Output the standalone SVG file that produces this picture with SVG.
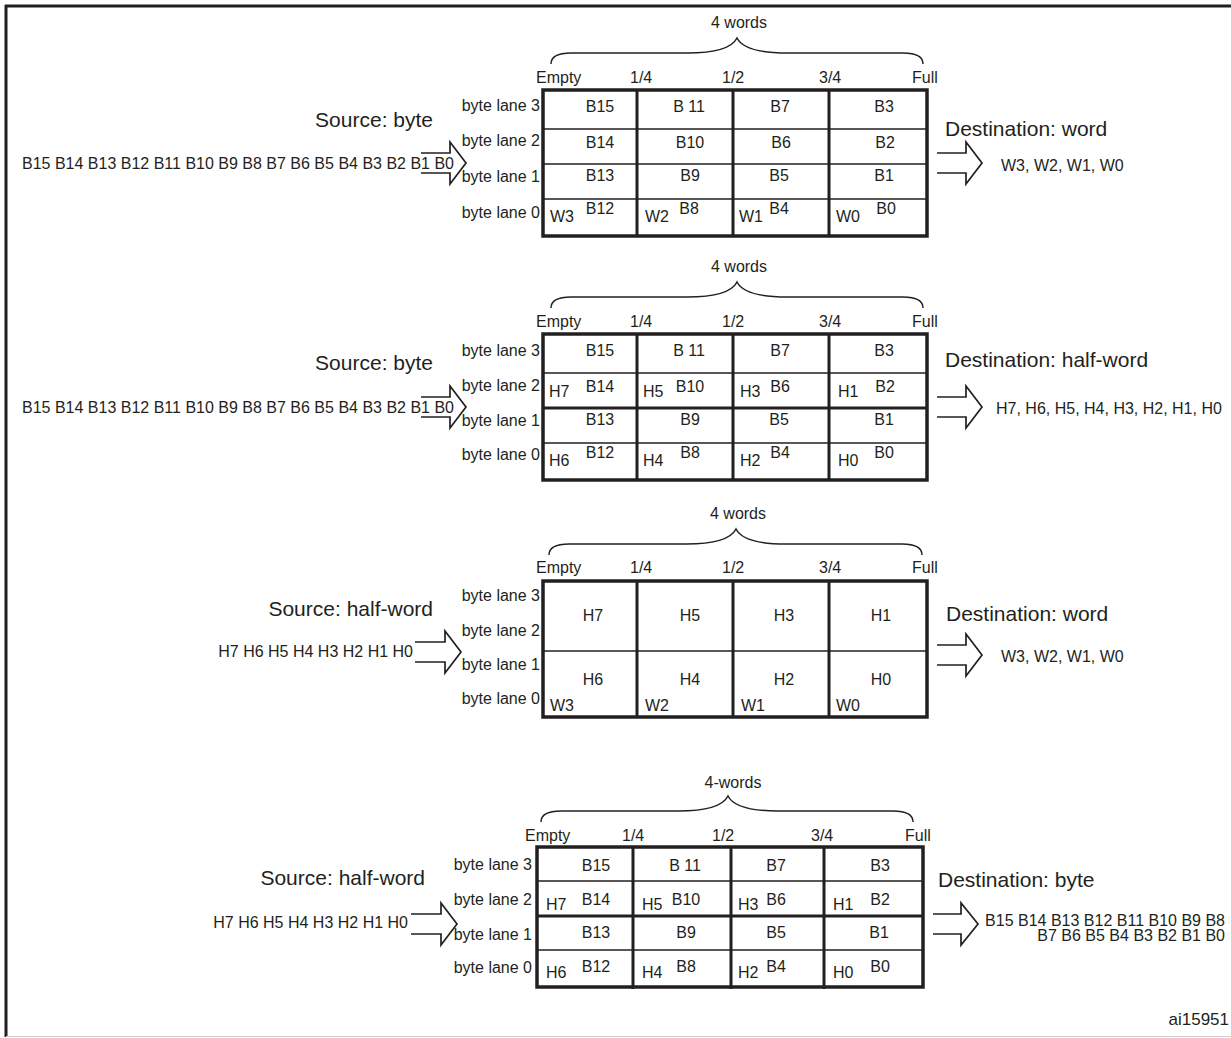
<svg xmlns="http://www.w3.org/2000/svg" width="1231" height="1038" viewBox="0 0 1231 1038">
<style>
text{font-family:"Liberation Sans",Arial,sans-serif;fill:#231f20}
.t{font-size:16px}
.big{font-size:21px}
.m{text-anchor:middle}
.e{text-anchor:end}
.outer{fill:#fff;stroke:#231f20;stroke-width:3.5}
.col{stroke:#231f20;stroke-width:3;fill:none}
.row{stroke:#231f20;stroke-width:1.4;fill:none}
.mid{stroke:#231f20;stroke-width:3;fill:none}
.brace{stroke:#231f20;stroke-width:1.5;fill:none}
.arrow{stroke:#231f20;stroke-width:1.7;fill:none;stroke-linejoin:miter}
</style>
<rect width="1231" height="1038" fill="#fff"/>
<g id="frame">
<line x1="5" y1="6" x2="1231" y2="6" stroke="#231f20" stroke-width="3"/>
<line x1="6" y1="5" x2="6" y2="1037" stroke="#231f20" stroke-width="3"/>
<line x1="6" y1="1036.5" x2="1231" y2="1036.5" stroke="#d0d0d0" stroke-width="1"/>
</g>

<!-- FIFO 1 -->
<g id="fifo1">
<text class="t m" x="739" y="28">4 words</text>
<path class="brace" d="M551,64 C551,57 557,53 571,53 L687,53 C717,53 732,48 737,38 C742,48 757,53 787,53 L903,53 C917,53 923,57 923,64"/>
<text class="t" x="536" y="83">Empty</text>
<text class="t" x="630" y="83">1/4</text>
<text class="t" x="722" y="83">1/2</text>
<text class="t" x="819" y="83">3/4</text>
<text class="t" x="912" y="83">Full</text>
<rect class="outer" x="543" y="90" width="384" height="146"/>
<path class="row" d="M543,129H927M543,164H927M543,199H927"/>
<path class="col" d="M637,90V236M733,90V236M829,90V236"/>
<text class="t e" x="540" y="111">byte lane 3</text>
<text class="t e" x="540" y="146">byte lane 2</text>
<text class="t e" x="540" y="182">byte lane 1</text>
<text class="t e" x="540" y="218">byte lane 0</text>
<text class="t m" x="600" y="112">B15</text><text class="t m" x="689" y="112">B 11</text><text class="t m" x="780" y="112">B7</text><text class="t m" x="884" y="112">B3</text>
<text class="t m" x="600" y="148">B14</text><text class="t m" x="690" y="148">B10</text><text class="t m" x="781" y="148">B6</text><text class="t m" x="885" y="148">B2</text>
<text class="t m" x="600" y="181">B13</text><text class="t m" x="690" y="181">B9</text><text class="t m" x="779" y="181">B5</text><text class="t m" x="884" y="181">B1</text>
<text class="t m" x="600" y="214">B12</text><text class="t m" x="689" y="214">B8</text><text class="t m" x="779" y="214">B4</text><text class="t m" x="886" y="214">B0</text>
<text class="t" x="550" y="222">W3</text><text class="t" x="645" y="222">W2</text><text class="t" x="739" y="222">W1</text><text class="t" x="836" y="222">W0</text>
</g>
<g id="source1">
<text class="big e" x="433" y="127">Source: byte</text>
<text class="t" x="22" y="169">B15 B14 B13 B12 B11 B10 B9 B8 B7 B6 B5 B4 B3 B2 B1 B0</text>
</g>
<g id="dest1">
<text class="big" x="945" y="136">Destination: word</text>
<text class="t" x="1001" y="171">W3, W2, W1, W0</text>
</g>

<!-- FIFO 2 -->
<g id="fifo2">
<text class="t m" x="739" y="272">4 words</text>
<path class="brace" d="M551,308 C551,301 557,297 571,297 L687,297 C717,297 732,292 737,282 C742,292 757,297 787,297 L903,297 C917,297 923,301 923,308"/>
<text class="t" x="536" y="327">Empty</text>
<text class="t" x="630" y="327">1/4</text>
<text class="t" x="722" y="327">1/2</text>
<text class="t" x="819" y="327">3/4</text>
<text class="t" x="912" y="327">Full</text>
<rect class="outer" x="543" y="334" width="384" height="146"/>
<path class="row" d="M543,373H927M543,443H927"/>
<path class="mid" d="M543,408H927"/>
<path class="col" d="M637,334V480M733,334V480M829,334V480"/>
<text class="t e" x="540" y="356">byte lane 3</text>
<text class="t e" x="540" y="391">byte lane 2</text>
<text class="t e" x="540" y="426">byte lane 1</text>
<text class="t e" x="540" y="460">byte lane 0</text>
<text class="t m" x="600" y="356">B15</text><text class="t m" x="689" y="356">B 11</text><text class="t m" x="780" y="356">B7</text><text class="t m" x="884" y="356">B3</text>
<text class="t m" x="600" y="392">B14</text><text class="t m" x="690" y="392">B10</text><text class="t m" x="780" y="392">B6</text><text class="t m" x="885" y="392">B2</text>
<text class="t" x="549" y="397">H7</text><text class="t" x="643" y="397">H5</text><text class="t" x="740" y="397">H3</text><text class="t" x="838" y="397">H1</text>
<text class="t m" x="600" y="425">B13</text><text class="t m" x="690" y="425">B9</text><text class="t m" x="779" y="425">B5</text><text class="t m" x="884" y="425">B1</text>
<text class="t m" x="600" y="458">B12</text><text class="t m" x="690" y="458">B8</text><text class="t m" x="780" y="458">B4</text><text class="t m" x="884" y="458">B0</text>
<text class="t" x="549" y="466">H6</text><text class="t" x="643" y="466">H4</text><text class="t" x="740" y="466">H2</text><text class="t" x="838" y="466">H0</text>
</g>
<g id="source2">
<text class="big e" x="433" y="370">Source: byte</text>
<text class="t" x="22" y="413">B15 B14 B13 B12 B11 B10 B9 B8 B7 B6 B5 B4 B3 B2 B1 B0</text>
</g>
<g id="dest2">
<text class="big" x="945" y="367">Destination: half-word</text>
<text class="t" x="996" y="414">H7, H6, H5, H4, H3, H2, H1, H0</text>
</g>

<!-- FIFO 3 -->
<g id="fifo3">
<text class="t m" x="738" y="519">4 words</text>
<path class="brace" d="M549,555 C549,548 555,544 569,544 L686,544 C716,544 731,539 736,529 C741,539 756,544 786,544 L902,544 C916,544 922,548 922,555"/>
<text class="t" x="536" y="573">Empty</text>
<text class="t" x="630" y="573">1/4</text>
<text class="t" x="722" y="573">1/2</text>
<text class="t" x="819" y="573">3/4</text>
<text class="t" x="912" y="573">Full</text>
<rect class="outer" x="543" y="581" width="384" height="136"/>
<path class="row" d="M543,651H927"/>
<path class="col" d="M637,581V717M733,581V717M829,581V717"/>
<text class="t e" x="540" y="601">byte lane 3</text>
<text class="t e" x="540" y="636">byte lane 2</text>
<text class="t e" x="540" y="670">byte lane 1</text>
<text class="t e" x="540" y="704">byte lane 0</text>
<text class="t m" x="593" y="621">H7</text><text class="t m" x="690" y="621">H5</text><text class="t m" x="784" y="621">H3</text><text class="t m" x="881" y="621">H1</text>
<text class="t m" x="593" y="685">H6</text><text class="t m" x="690" y="685">H4</text><text class="t m" x="784" y="685">H2</text><text class="t m" x="881" y="685">H0</text>
<text class="t" x="550" y="711">W3</text><text class="t" x="645" y="711">W2</text><text class="t" x="741" y="711">W1</text><text class="t" x="836" y="711">W0</text>
</g>
<g id="source3">
<text class="big e" x="433" y="616">Source: half-word</text>
<text class="t e" x="413" y="657">H7 H6 H5 H4 H3 H2 H1 H0</text>
</g>
<g id="dest3">
<text class="big" x="946" y="621">Destination: word</text>
<text class="t" x="1001" y="662">W3, W2, W1, W0</text>
</g>

<!-- FIFO 4 -->
<g id="fifo4">
<text class="t m" x="733" y="788">4-words</text>
<path class="brace" d="M541,822 C541,815 547,811 561,811 L678,811 C708,811 723,806 728,796 C733,806 748,811 778,811 L893,811 C907,811 913,815 913,822"/>
<text class="t" x="525" y="841">Empty</text>
<text class="t" x="622" y="841">1/4</text>
<text class="t" x="712" y="841">1/2</text>
<text class="t" x="811" y="841">3/4</text>
<text class="t" x="905" y="841">Full</text>
<rect class="outer" x="537" y="847" width="386" height="140"/>
<path class="row" d="M537,881H923M537,950H923"/>
<path class="mid" d="M537,916H923"/>
<path class="col" d="M633,847V989M731,847V989M824,847V989"/>
<text class="t e" x="532" y="870">byte lane 3</text>
<text class="t e" x="532" y="905">byte lane 2</text>
<text class="t e" x="532" y="940">byte lane 1</text>
<text class="t e" x="532" y="973">byte lane 0</text>
<text class="t m" x="596" y="871">B15</text><text class="t m" x="685" y="871">B 11</text><text class="t m" x="776" y="871">B7</text><text class="t m" x="880" y="871">B3</text>
<text class="t m" x="596" y="905">B14</text><text class="t m" x="686" y="905">B10</text><text class="t m" x="776" y="905">B6</text><text class="t m" x="880" y="905">B2</text>
<text class="t" x="546" y="910">H7</text><text class="t" x="642" y="910">H5</text><text class="t" x="738" y="910">H3</text><text class="t" x="833" y="910">H1</text>
<text class="t m" x="596" y="938">B13</text><text class="t m" x="686" y="938">B9</text><text class="t m" x="776" y="938">B5</text><text class="t m" x="879" y="938">B1</text>
<text class="t m" x="596" y="972">B12</text><text class="t m" x="686" y="972">B8</text><text class="t m" x="776" y="972">B4</text><text class="t m" x="880" y="972">B0</text>
<text class="t" x="546" y="978">H6</text><text class="t" x="642" y="978">H4</text><text class="t" x="738" y="978">H2</text><text class="t" x="833" y="978">H0</text>
</g>
<g id="source4">
<text class="big e" x="425" y="885">Source: half-word</text>
<text class="t e" x="408" y="928">H7 H6 H5 H4 H3 H2 H1 H0</text>
</g>
<g id="dest4">
<text class="big" x="938" y="887">Destination: byte</text>
<text class="t e" x="1225" y="926">B15 B14 B13 B12 B11 B10 B9 B8</text>
<text class="t e" x="1225" y="941">B7 B6 B5 B4 B3 B2 B1 B0</text>
</g>

<g id="connectors">
<path class="arrow" d="M421,153 L450,153 L450,142 L466,163 L450,184 L450,173 L421,173"/>
<path class="arrow" d="M937,153 L966,153 L966,142 L982,163 L966,184 L966,173 L937,173"/>
<path class="arrow" d="M421,397 L450,397 L450,386 L466,407 L450,428 L450,417 L421,417"/>
<path class="arrow" d="M937,397 L966,397 L966,386 L982,407 L966,428 L966,417 L937,417"/>
<path class="arrow" d="M415,642 L445,642 L445,631 L461,652 L445,673 L445,662 L415,662"/>
<path class="arrow" d="M937,645 L966,645 L966,634 L982,655 L966,676 L966,665 L937,665"/>
<path class="arrow" d="M411,914 L441,914 L441,903 L457,924 L441,945 L441,934 L411,934"/>
<path class="arrow" d="M933,914 L961,914 L961,903 L978,924 L961,945 L961,934 L933,934"/>
</g>

<text class="t e" x="1229" y="1025" style="font-size:17px">ai15951</text>
</svg>
